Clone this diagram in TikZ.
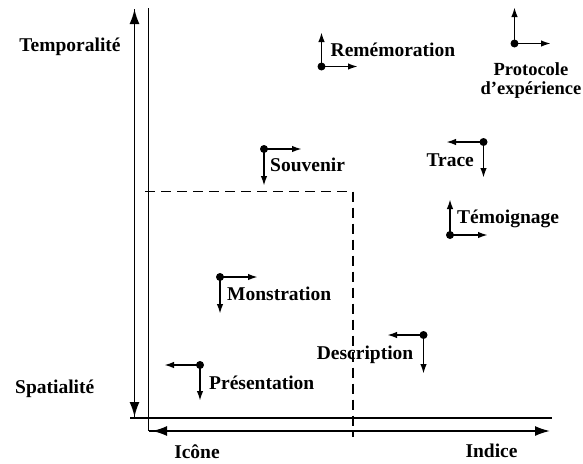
\documentclass[tikz,border=0pt]{standalone}
\usepackage{fontspec}
\setmainfont{Liberation Serif}
\usetikzlibrary{arrows.meta}
\begin{document}
\begin{tikzpicture}[x=1pt,y=-1pt,
  lbl/.style={font=\fontsize{19.5}{21}\selectfont\bfseries, inner sep=0pt},
  lblsmall/.style={font=\fontsize{18.5}{20}\selectfont\bfseries, inner sep=0pt},
  axis/.style={line width=1.8pt},
  bigtip/.style={line width=1.8pt, -{Latex[length=15pt,width=10pt]}},
  vec/.style={line width=1.8pt, -{Latex[length=10pt,width=6.5pt]}},
  dotc/.style={circle, fill, inner sep=0pt, minimum size=8pt},
  dashline/.style={line width=1.6pt, dash pattern=on 10pt off 6pt}
]
\useasboundingbox (0,0) rectangle (583,463);
% axes
\coordinate (vtop) at (134.5,9);
\coordinate (vbot) at (134.5,417);
\coordinate (ltop) at (148.5,8);
\coordinate (corner) at (148.5,431);
\coordinate (hright) at (550,431);
\coordinate (hleftA) at (168,431);
\coordinate (hleftB) at (152,431);
\coordinate (base1) at (130,418);
\coordinate (base2) at (552,418);
\draw[bigtip] (vbot) -- (vtop);
\draw[bigtip] (vtop) -- (vbot);
\draw[axis] (ltop) -- (corner);
\draw[bigtip] (corner) -- (hright);
\draw[bigtip] (hleftA) -- (hleftB);
\draw[axis] (base1) -- (base2);
% dashed box
\coordinate (d1) at (145,191.5);
\coordinate (d2) at (353,191.5);
\coordinate (d3) at (353,437);
\draw[dashline] (d1) -- (d2) -- (d3);
% axis labels
\node[lbl, anchor=base] (temp) at (70,51) {Temporalité};
\node[lbl, anchor=base west] (spat) at (15,393) {Spatialité};
\node[lbl, anchor=base] (icone) at (197,458) {Icône};
\node[lbl, anchor=base] (indice) at (491.5,457) {Indice};
% Remémoration
\node[dotc] (rem) at (321.5,66.5) {};
\coordinate (remU) at (321.5,32);
\coordinate (remR) at (358,66.5);
\draw[vec] (rem.center) -- (remU);
\draw[vec] (rem.center) -- (remR);
\node[lbl, anchor=base west] (remT) at (330.5,56) {Remémoration};
% Protocole
\node[dotc] (pro) at (514.5,43.5) {};
\coordinate (proU) at (514.5,7);
\coordinate (proR) at (551,43.5);
\draw[vec] (pro.center) -- (proU);
\draw[vec] (pro.center) -- (proR);
\node[lblsmall, anchor=base] (proT1) at (531,75) {Protocole};
\node[lblsmall, anchor=base] (proT2) at (531,94.5) {d'expérience};
% Souvenir
\node[dotc] (sou) at (264,149) {};
\coordinate (souR) at (302,149);
\coordinate (souD) at (264,186);
\draw[vec] (sou.center) -- (souR);
\draw[vec] (sou.center) -- (souD);
\node[lbl, anchor=base west] (souT) at (270,171) {Souvenir};
% Monstration
\node[dotc] (mon) at (220,277) {};
\coordinate (monR) at (258,277);
\coordinate (monD) at (220,314);
\draw[vec] (mon.center) -- (monR);
\draw[vec] (mon.center) -- (monD);
\node[lbl, anchor=base west] (monT) at (227,300) {Monstration};
% Trace
\node[dotc] (tra) at (483.5,142) {};
\coordinate (traL) at (446,142);
\coordinate (traD) at (483.5,178);
\draw[vec] (tra.center) -- (traL);
\draw[vec] (tra.center) -- (traD);
\node[lbl, anchor=base east] (traT) at (474,166) {Trace};
% Témoignage
\node[dotc] (tem) at (450,235) {};
\coordinate (temU) at (450,199);
\coordinate (temR) at (488,235);
\draw[vec] (tem.center) -- (temU);
\draw[vec] (tem.center) -- (temR);
\node[lbl, anchor=base west] (temT) at (457,223) {Témoignage};
% Description
\node[dotc] (des) at (423.5,335) {};
\coordinate (desL) at (387,335);
\coordinate (desD) at (423.5,374);
\draw[vec] (des.center) -- (desL);
\draw[vec] (des.center) -- (desD);
\node[lbl, anchor=base east] (desT) at (413.5,359) {Description};
% Présentation
\node[dotc] (pre) at (200,365) {};
\coordinate (preL) at (164,365);
\coordinate (preD) at (200,401);
\draw[vec] (pre.center) -- (preL);
\draw[vec] (pre.center) -- (preD);
\node[lbl, anchor=base west] (preT) at (209,389) {Présentation};
\end{tikzpicture}
\end{document}
